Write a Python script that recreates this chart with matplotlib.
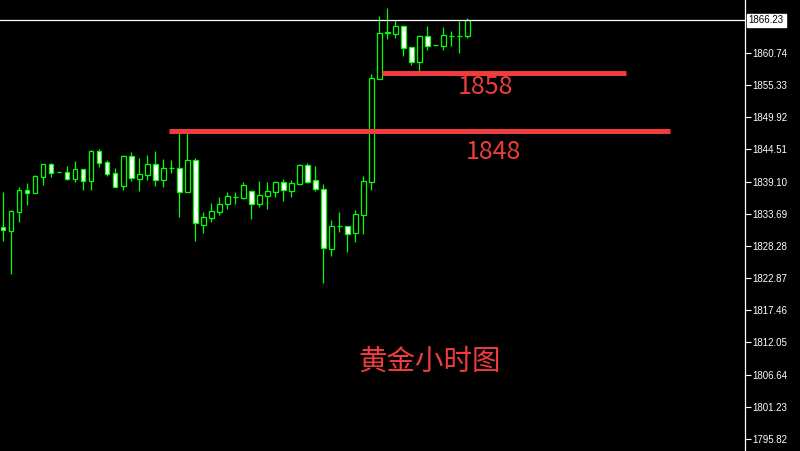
import numpy as np
import matplotlib
matplotlib.use("Agg")
import matplotlib.pyplot as plt
import matplotlib.transforms as mtransforms

plt.rcParams['font.family'] = ['Noto Sans CJK SC', 'DejaVu Sans']

# hourly gold candles
opens = [1831.39, 1830.85, 1834.05, 1837.65, 1837.24, 1839.93, 1842.02, 1840.67, 1840.67, 1839.60,
         1841.18, 1839.16, 1844.20, 1842.36, 1840.51, 1838.42, 1843.41, 1839.60, 1840.27, 1842.07,
         1839.43, 1841.35, 1841.35, 1837.44, 1842.69, 1831.86, 1833.04, 1834.05, 1835.29, 1836.57,
         1836.40, 1837.48, 1835.29, 1836.64, 1837.41, 1838.99, 1837.58, 1838.76, 1841.85, 1839.33,
         1837.81, 1827.82, 1831.69, 1831.59, 1830.41, 1833.54, 1839.09, 1856.42, 1864.05, 1863.98,
         1865.23, 1861.70, 1859.27, 1863.55, 1862.03, 1861.96, 1863.65, 1863.55, 1863.55]
highs = [1837.36, 1834.28, 1838.15, 1838.87, 1840.17, 1842.07, 1842.19, 1840.67, 1841.68, 1842.57,
         1841.23, 1844.37, 1844.54, 1842.74, 1841.40, 1843.58, 1844.09, 1843.08, 1843.58, 1844.26,
         1842.91, 1842.74, 1847.79, 1847.79, 1843.04, 1834.00, 1835.51, 1836.52, 1837.36, 1837.36,
         1838.99, 1837.65, 1839.21, 1839.04, 1839.21, 1839.50, 1839.38, 1842.07, 1842.24, 1841.73,
         1838.71, 1832.65, 1834.00, 1831.69, 1834.33, 1840.05, 1857.21, 1866.96, 1868.31, 1866.29,
         1865.50, 1861.75, 1863.71, 1865.28, 1862.03, 1865.06, 1864.39, 1866.12, 1866.57]
lows = [1829.12, 1823.62, 1832.37, 1835.17, 1837.24, 1838.54, 1839.88, 1840.67, 1839.38, 1839.09,
        1837.75, 1837.75, 1841.62, 1840.10, 1838.25, 1837.70, 1839.26, 1837.58, 1839.38, 1838.37,
        1838.20, 1840.61, 1833.21, 1837.44, 1829.12, 1830.52, 1832.37, 1833.54, 1834.55, 1835.39,
        1836.23, 1832.87, 1834.89, 1834.55, 1836.57, 1835.90, 1836.57, 1838.59, 1838.82, 1837.58,
        1822.11, 1826.65, 1830.68, 1827.32, 1829.00, 1830.35, 1837.75, 1856.42, 1863.14, 1863.31,
        1860.28, 1858.72, 1857.71, 1861.24, 1862.03, 1861.29, 1861.96, 1860.79, 1863.31]
closes = [1830.89, 1834.11, 1837.65, 1837.24, 1840.00, 1842.02, 1840.61, 1840.67, 1839.60, 1841.18,
          1839.16, 1844.20, 1842.29, 1840.44, 1838.25, 1843.41, 1839.77, 1840.34, 1842.07, 1839.43,
          1841.40, 1841.35, 1837.31, 1842.69, 1832.10, 1833.11, 1834.11, 1835.29, 1836.64, 1836.57,
          1838.49, 1835.29, 1836.81, 1837.48, 1838.99, 1837.65, 1838.84, 1841.85, 1839.09, 1837.81,
          1827.89, 1831.64, 1831.69, 1830.25, 1833.61, 1839.16, 1856.48, 1864.05, 1864.30, 1865.23,
          1861.63, 1859.27, 1863.55, 1861.96, 1862.03, 1863.71, 1863.65, 1863.55, 1866.23]

price_ticks = [1795.82, 1801.23, 1806.64, 1812.05, 1817.46, 1822.87, 1828.28,
               1833.69, 1839.10, 1844.51, 1849.92, 1855.33, 1860.74]
last_price = 1866.23

# support levels drawn on the chart: (price, start bar, end bar, label)
levels = [1857.3, 1847.57]
level_start = [47.3, 20.7]
level_end = [77.8, 83.3]
level_labels = ["1858", "1848"]
title = "黄金小时图"

green = "#00ff00"
red = "#f03c3c"

fig = plt.figure(figsize=(8, 4.51), dpi=100, facecolor="black")
ax = fig.add_axes([0, 0, 745 / 800, 1])
ax.set_facecolor("black")

x = np.arange(len(opens))
o = np.array(opens)
c = np.array(closes)

ax.vlines(x, lows, highs, color=green, lw=0.9, zorder=2)
fill = np.where(c >= o, "black", "white")
ax.bar(x, c - o, bottom=o, width=0.55, color=fill, edgecolor=green, linewidth=0.9, zorder=3)

# current price line
ax.axhline(last_price, color="white", lw=0.9, zorder=4)

for lv, s, e in zip(levels, level_start, level_end):
    ax.hlines(lv, s, e, color=red, lw=3.6, zorder=5)

ax.text(60.3, 1855.0, level_labels[0], color=red, fontsize=18, ha="center", va="center")
ax.text(61.3, 1844.1, level_labels[1], color=red, fontsize=18, ha="center", va="center")
ax.text(53.3, 1808.9, title, color=red, fontsize=20.5, ha="center", va="center")

ax.set_xlim(-0.41, 92.7)
ax.set_ylim(1793.80, 1869.65)

ax.yaxis.tick_right()
ax.set_yticks(price_ticks)
ax.set_yticklabels(["%.2f" % t for t in price_ticks], family="Liberation Sans")
ax.tick_params(axis="y", colors="white", length=4, width=0.8, pad=1.5, labelsize=7)
ax.set_xticks([])
for side in ["top", "bottom", "left"]:
    ax.spines[side].set_visible(False)
ax.spines["right"].set_color("white")
ax.spines["right"].set_linewidth(0.9)

trans = mtransforms.blended_transform_factory(ax.transAxes, ax.transData)
ax.text(1.005, last_price, "%.2f" % last_price, transform=trans, color="black",
        fontsize=7, family="Liberation Sans", va="center", ha="left", clip_on=False,
        bbox=dict(facecolor="white", edgecolor="white", pad=1.2))

plt.savefig("out.png", dpi=100, facecolor="black")
